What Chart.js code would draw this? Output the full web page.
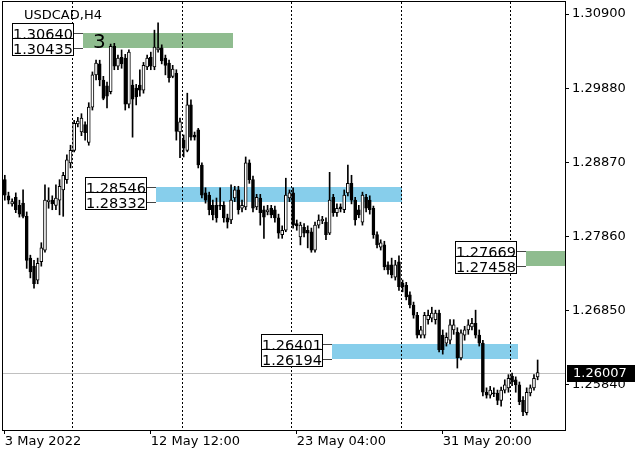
<!DOCTYPE html>
<html>
<head>
<meta charset="utf-8">
<title>USDCAD,H4</title>
<script src="https://cdn.jsdelivr.net/npm/chart.js@4.4.0/dist/chart.umd.min.js"></script>
<style>
  html, body { margin: 0; padding: 0; background: #fff; }
  #wrap { width: 640px; height: 457px; }
</style>
</head>
<body>
<div id="wrap"><canvas id="chart" width="640" height="457"></canvas></div>
<script>
// USDCAD H4, 3 May 20:00 -> 2 Jun 2022
const symbolTitle = 'USDCAD,H4';

const opens = [
  1.2864, 1.2842, 1.2831, 1.2840, 1.2829, 1.2832, 1.2814, 1.2757, 1.2746, 1.2727,
  1.2752, 1.2768, 1.2834, 1.2836, 1.2829, 1.2836, 1.2850, 1.2864, 1.2887, 1.2904,
  1.2940, 1.2929, 1.2939, 1.2915, 1.2963, 1.3007, 1.3022, 1.3000, 1.2992, 1.2984,
  1.3046, 1.3019, 1.3031, 1.3030, 1.2967, 1.2993, 1.2989, 1.2993, 1.2986, 1.3018,
  1.3031, 1.3018, 1.3041, 1.3044, 1.3030, 1.3023, 1.3005, 1.3009, 1.2929, 1.2918,
  1.2904, 1.2966, 1.2925, 1.2932, 1.2884, 1.2846, 1.2843, 1.2829, 1.2829, 1.2829,
  1.2829, 1.2812, 1.2809, 1.2839, 1.2850, 1.2825, 1.2827, 1.2887, 1.2864, 1.2827,
  1.2839, 1.2823, 1.2820, 1.2825, 1.2823, 1.2812, 1.2789, 1.2795, 1.2839, 1.2846,
  1.2804, 1.2786, 1.2799, 1.2795, 1.2793, 1.2768, 1.2802, 1.2808, 1.2806, 1.2791,
  1.2840, 1.2819, 1.2827, 1.2823, 1.2846, 1.2859, 1.2836, 1.2823, 1.2806, 1.2840,
  1.2836, 1.2825, 1.2789, 1.2772, 1.2775, 1.2748, 1.2748, 1.2731, 1.2752, 1.2723,
  1.2720, 1.2707, 1.2693, 1.2679, 1.2652, 1.2652, 1.2673, 1.2675, 1.2673, 1.2682,
  1.2652, 1.2641, 1.2645, 1.2659, 1.2656, 1.2621, 1.2652, 1.2659, 1.2663, 1.2668,
  1.2652, 1.2641, 1.2574, 1.2570, 1.2573, 1.2573, 1.2563, 1.2577, 1.2580, 1.2596,
  1.2591, 1.2584, 1.2563, 1.2546, 1.2573, 1.2580, 1.2595
];
const highs = [
  1.2870, 1.2847, 1.2838, 1.2846, 1.2836, 1.2850, 1.2820, 1.2761, 1.2754, 1.2757,
  1.2778, 1.2857, 1.2853, 1.2842, 1.2857, 1.2864, 1.2874, 1.2898, 1.2911, 1.2945,
  1.2949, 1.2954, 1.2943, 1.2969, 1.3011, 1.3027, 1.3027, 1.3005, 1.2997, 1.3049,
  1.3050, 1.3034, 1.3041, 1.3035, 1.3041, 1.3000, 1.2994, 1.3014, 1.3024, 1.3034,
  1.3038, 1.3068, 1.3078, 1.3048, 1.3034, 1.3027, 1.3020, 1.3014, 1.2948, 1.2925,
  1.2982, 1.2973, 1.2929, 1.2934, 1.2887, 1.2853, 1.2847, 1.2836, 1.2839, 1.2853,
  1.2834, 1.2817, 1.2857, 1.2855, 1.2855, 1.2836, 1.2895, 1.2891, 1.2869, 1.2844,
  1.2844, 1.2828, 1.2829, 1.2829, 1.2828, 1.2817, 1.2801, 1.2866, 1.2850, 1.2853,
  1.2809, 1.2806, 1.2804, 1.2801, 1.2798, 1.2806, 1.2816, 1.2814, 1.2812, 1.2874,
  1.2844, 1.2831, 1.2831, 1.2850, 1.2884, 1.2870, 1.2840, 1.2829, 1.2847, 1.2844,
  1.2842, 1.2828, 1.2793, 1.2782, 1.2780, 1.2752, 1.2757, 1.2754, 1.2760, 1.2727,
  1.2724, 1.2711, 1.2697, 1.2683, 1.2664, 1.2683, 1.2686, 1.2690, 1.2686, 1.2686,
  1.2659, 1.2655, 1.2673, 1.2673, 1.2662, 1.2659, 1.2664, 1.2673, 1.2675, 1.2686,
  1.2659, 1.2645, 1.2580, 1.2582, 1.2580, 1.2577, 1.2581, 1.2591, 1.2598, 1.2600,
  1.2595, 1.2588, 1.2568, 1.2580, 1.2584, 1.2598, 1.2618
];
const lows = [
  1.2836, 1.2831, 1.2828, 1.2819, 1.2813, 1.2812, 1.2743, 1.2730, 1.2716, 1.2722,
  1.2746, 1.2765, 1.2825, 1.2823, 1.2823, 1.2816, 1.2814, 1.2859, 1.2880, 1.2902,
  1.2936, 1.2924, 1.2918, 1.2911, 1.2959, 1.3000, 1.2992, 1.2973, 1.2962, 1.2981,
  1.3014, 1.3014, 1.3016, 1.2959, 1.2962, 1.2922, 1.2966, 1.2978, 1.2982, 1.3014,
  1.3014, 1.3014, 1.3038, 1.3022, 1.3007, 1.2997, 1.3003, 1.2918, 1.2894, 1.2895,
  1.2902, 1.2918, 1.2918, 1.2880, 1.2839, 1.2832, 1.2816, 1.2809, 1.2806, 1.2823,
  1.2806, 1.2798, 1.2804, 1.2834, 1.2817, 1.2820, 1.2823, 1.2859, 1.2820, 1.2823,
  1.2802, 1.2784, 1.2816, 1.2812, 1.2806, 1.2784, 1.2784, 1.2793, 1.2834, 1.2798,
  1.2795, 1.2775, 1.2786, 1.2771, 1.2765, 1.2765, 1.2798, 1.2804, 1.2782, 1.2789,
  1.2814, 1.2814, 1.2820, 1.2819, 1.2842, 1.2831, 1.2802, 1.2812, 1.2802, 1.2820,
  1.2817, 1.2784, 1.2771, 1.2768, 1.2741, 1.2735, 1.2730, 1.2727, 1.2713, 1.2711,
  1.2700, 1.2689, 1.2675, 1.2648, 1.2648, 1.2648, 1.2667, 1.2670, 1.2667, 1.2629,
  1.2626, 1.2637, 1.2640, 1.2653, 1.2607, 1.2618, 1.2645, 1.2653, 1.2659, 1.2648,
  1.2637, 1.2569, 1.2566, 1.2566, 1.2568, 1.2557, 1.2555, 1.2573, 1.2574, 1.2583,
  1.2574, 1.2557, 1.2542, 1.2543, 1.2569, 1.2577, 1.2591
];
const closes = [
  1.2843, 1.2836, 1.2834, 1.2823, 1.2817, 1.2814, 1.2754, 1.2738, 1.2722, 1.2750,
  1.2771, 1.2836, 1.2836, 1.2831, 1.2839, 1.2855, 1.2870, 1.2891, 1.2904, 1.2941,
  1.2944, 1.2948, 1.2928, 1.2963, 1.3007, 1.3023, 1.3000, 1.2975, 1.2978, 1.3046,
  1.3019, 1.3030, 1.3022, 1.2967, 1.3038, 1.2974, 1.2977, 1.2986, 1.3020, 1.3030,
  1.3019, 1.3045, 1.3044, 1.3026, 1.3020, 1.3003, 1.3015, 1.2930, 1.2943, 1.2907,
  1.2966, 1.2922, 1.2922, 1.2884, 1.2843, 1.2836, 1.2823, 1.2816, 1.2812, 1.2828,
  1.2812, 1.2806, 1.2836, 1.2850, 1.2823, 1.2829, 1.2887, 1.2864, 1.2825, 1.2840,
  1.2819, 1.2813, 1.2823, 1.2816, 1.2812, 1.2791, 1.2795, 1.2843, 1.2846, 1.2802,
  1.2801, 1.2802, 1.2791, 1.2791, 1.2768, 1.2802, 1.2809, 1.2810, 1.2789, 1.2836,
  1.2819, 1.2825, 1.2824, 1.2843, 1.2859, 1.2836, 1.2809, 1.2816, 1.2843, 1.2825,
  1.2823, 1.2789, 1.2775, 1.2778, 1.2745, 1.2741, 1.2734, 1.2748, 1.2718, 1.2718,
  1.2704, 1.2693, 1.2679, 1.2652, 1.2659, 1.2679, 1.2679, 1.2682, 1.2682, 1.2632,
  1.2632, 1.2649, 1.2666, 1.2666, 1.2621, 1.2655, 1.2659, 1.2666, 1.2668, 1.2652,
  1.2641, 1.2574, 1.2570, 1.2577, 1.2572, 1.2563, 1.2577, 1.2584, 1.2593, 1.2588,
  1.2584, 1.2561, 1.2547, 1.2574, 1.2580, 1.2593, 1.26007
];

// axis
const slotCount = 154;          // bars + empty shift on the right
const priceMin = 1.25225;
const priceMax = 1.31064;
const yTickValues = [1.30900, 1.29880, 1.28870, 1.27860, 1.26850, 1.25840];
const xTickIndex = [0, 40, 80, 120];
const xTickText = ['3 May 2022', '12 May 12:00', '23 May 04:00', '31 May 20:00'];
const weekSeparators = [18.5, 48.5, 78.5, 108.5, 138.5];
const lastPrice = 1.26007;

// rectangles (bar index range + price range)
const zoneStart  = [21.4, 41.4, 89.7, 142.8];
const zoneEnd    = [62.5, 108.8, 140.6, 153.5];
const zoneTop    = [1.30640, 1.28546, 1.26401, 1.27669];
const zoneBottom = [1.30435, 1.28332, 1.26194, 1.27458];
const zoneColor  = ['#8fbc8f', '#87ceeb', '#87ceeb', '#8fbc8f'];
const zoneText   = ['3', '', '', ''];

const FONT = '"DejaVu Sans", Verdana, sans-serif';

const labels = [];
for (let i = 0; i < slotCount; i++) labels.push(String(i));

const bodies = opens.map((o, i) => [o, closes[i]]);
const wicks = lows.map((l, i) => [l, highs[i]]);
const bodyFill = opens.map((o, i) => closes[i] >= o ? '#ffffff' : '#000000');

const overlay = {
  id: 'mtOverlay',
  beforeDatasetsDraw(chart) {
    const { ctx, chartArea: a, scales: { x, y } } = chart;
    ctx.save();
    ctx.beginPath();
    ctx.rect(a.left, a.top, a.right - a.left, a.bottom - a.top);
    ctx.clip();

    // rectangles in background
    zoneStart.forEach((s, i) => {
      const x0 = x.getPixelForValue(s);
      const x1 = Math.min(x.getPixelForValue(zoneEnd[i]), a.right);
      const y0 = y.getPixelForValue(zoneTop[i]);
      const y1 = y.getPixelForValue(zoneBottom[i]);
      ctx.fillStyle = zoneColor[i];
      ctx.fillRect(Math.round(x0), Math.round(y0), Math.round(x1) - Math.round(x0), Math.round(y1) - Math.round(y0));
    });

    // weekly separators
    ctx.strokeStyle = '#000';
    ctx.lineWidth = 1;
    ctx.setLineDash([2, 2]);
    weekSeparators.forEach(v => {
      const px = Math.round(x.getPixelForValue(v)) + 0.5;
      ctx.beginPath();
      ctx.moveTo(px, a.top);
      ctx.lineTo(px, a.bottom);
      ctx.stroke();
    });
    ctx.setLineDash([]);

    // bid line
    const py = Math.round(y.getPixelForValue(lastPrice)) + 0.5;
    ctx.strokeStyle = '#c0c0c0';
    ctx.beginPath();
    ctx.moveTo(a.left, py);
    ctx.lineTo(a.right, py);
    ctx.stroke();
    ctx.restore();
  },
  afterDraw(chart) {
    const { ctx, chartArea: a, scales: { x, y } } = chart;
    ctx.save();

    // frame
    ctx.strokeStyle = '#000';
    ctx.lineWidth = 1;
    ctx.strokeRect(a.left - 0.5, a.top - 0.5, a.right - a.left + 1, a.bottom - a.top + 1);

    // price labels of the rectangles
    ctx.font = '14.5px ' + FONT;
    zoneStart.forEach((s, i) => {
      const x0 = Math.round(x.getPixelForValue(s));
      const xr = x0 - 9;
      [zoneTop[i], zoneBottom[i]].forEach(level => {
        const ly = Math.round(y.getPixelForValue(level));
        const txt = level.toFixed(5);
        const tw = Math.ceil(ctx.measureText(txt).width);
        ctx.fillStyle = '#fff';
        ctx.fillRect(xr - tw - 2, ly - 10, tw + 2, 18);
        ctx.strokeStyle = '#000';
        ctx.strokeRect(xr - tw - 2 + 0.5, ly - 10 + 0.5, tw + 1, 17);
        ctx.fillStyle = '#000';
        ctx.textAlign = 'right';
        ctx.textBaseline = 'alphabetic';
        ctx.fillText(txt, xr - 1, ly + 6);
        ctx.strokeStyle = '#444';
        ctx.beginPath();
        ctx.moveTo(xr, ly + 0.5);
        ctx.lineTo(x0, ly + 0.5);
        ctx.stroke();
      });
      if (zoneText[i]) {
        ctx.font = '20px ' + FONT;
        ctx.fillStyle = '#000';
        ctx.textAlign = 'left';
        ctx.fillText(zoneText[i], x0 + 10, Math.round(y.getPixelForValue(zoneBottom[i])));
        ctx.font = '14.5px ' + FONT;
      }
    });

    // title
    ctx.font = '13px ' + FONT;
    ctx.fillStyle = '#000';
    ctx.textAlign = 'left';
    ctx.textBaseline = 'alphabetic';
    ctx.fillText(symbolTitle, 24, 19);

    // last price tag
    const py = Math.round(y.getPixelForValue(lastPrice));
    ctx.fillStyle = '#000';
    ctx.fillRect(a.right + 2, py - 8, 68, 17);
    ctx.fillStyle = '#fff';
    ctx.textBaseline = 'middle';
    ctx.fillText(lastPrice.toFixed(5), a.right + 8, py + 1);
    ctx.restore();
  }
};

new Chart(document.getElementById('chart').getContext('2d'), {
  type: 'bar',
  data: {
    labels: labels,
    datasets: [
      {
        label: 'body',
        data: bodies,
        backgroundColor: bodyFill,
        borderColor: '#000',
        borderWidth: 1,
        borderSkipped: false,
        barThickness: 3,
        minBarLength: 1,
        grouped: false,
        order: 0
      },
      {
        label: 'wick',
        data: wicks,
        backgroundColor: '#000',
        borderWidth: 0,
        barThickness: 1,
        grouped: false,
        order: 1
      }
    ]
  },
  options: {
    responsive: false,
    animation: false,
    devicePixelRatio: 1,
    layout: { padding: { left: 3, top: 2, right: 0, bottom: 0 } },
    plugins: { legend: { display: false }, tooltip: { enabled: false } },
    scales: {
      x: {
        type: 'category',
        offset: true,
        grid: { display: true, drawOnChartArea: false, drawTicks: true, tickLength: 4, color: '#000', offset: false },
        border: { display: false },
        ticks: {
          autoSkip: false, maxRotation: 0, minRotation: 0, align: 'start', padding: 0,
          color: '#000', font: { family: FONT, size: 13 },
          callback: (v) => xTickText[xTickIndex.indexOf(v)]
        },
        afterBuildTicks: s => { s.ticks = xTickIndex.map(v => ({ value: v })); },
        afterFit: s => { s.height = 27; s.paddingLeft = 0; s.paddingRight = 0; }
      },
      y: {
        position: 'right',
        min: priceMin,
        max: priceMax,
        grid: { drawOnChartArea: false, drawTicks: true, tickLength: 4, color: '#000' },
        border: { display: false },
        ticks: {
          padding: 3, color: '#000', font: { family: FONT, size: 13 },
          callback: v => Number(v).toFixed(5)
        },
        afterBuildTicks: s => { s.ticks = yTickValues.map(v => ({ value: v })); },
        afterFit: s => { s.width = 75; s.paddingTop = 0; s.paddingBottom = 0; }
      }
    }
  },
  plugins: [overlay]
});
</script>
</body>
</html>
